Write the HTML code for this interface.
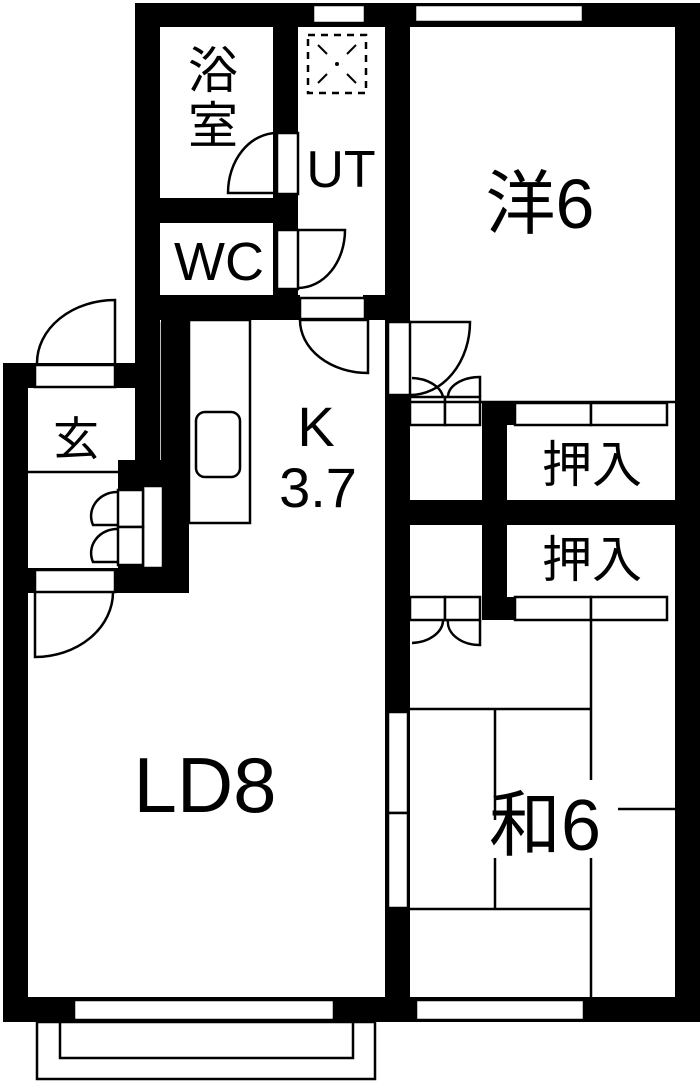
<!DOCTYPE html>
<html><head><meta charset="utf-8"><style>
html,body{margin:0;padding:0;background:#fff;}
svg{display:block;}
text{font-family:"Liberation Sans","Noto Sans CJK JP",sans-serif;fill:#000;}
</style></head><body>
<svg width="700" height="1083" viewBox="0 0 700 1083" xmlns="http://www.w3.org/2000/svg">
<g fill="#000" stroke="none">
<rect x="135" y="3" width="565" height="24"/>
<rect x="135" y="3" width="25" height="470"/>
<rect x="675" y="3" width="25" height="1019"/>
<rect x="273" y="27" width="25" height="293"/>
<rect x="160" y="198" width="138" height="25"/>
<rect x="135" y="295" width="165" height="25"/>
<rect x="363" y="295" width="47" height="25"/>
<rect x="385" y="3" width="25" height="1019"/>
<rect x="3" y="363" width="25" height="659"/>
<rect x="3" y="363" width="157" height="25"/>
<rect x="161" y="320" width="28" height="273"/>
<rect x="118" y="460" width="71" height="133"/>
<rect x="3" y="568" width="186" height="25"/>
<rect x="3" y="997" width="697" height="25"/>
<rect x="482" y="403" width="25" height="217"/>
<rect x="410" y="500" width="265" height="25"/>
<rect x="482" y="403" width="33" height="22"/>
<rect x="482" y="597" width="33" height="23"/>
</g>
<g fill="#fff" stroke="#000" stroke-width="2.5">
<rect x="313" y="5" width="52" height="18"/>
<rect x="415" y="5" width="168" height="17"/>
<rect x="74" y="1000" width="260" height="20"/>
<rect x="416" y="1000" width="168" height="20"/>
<rect x="277" y="133" width="21" height="61"/>
<rect x="277" y="230" width="21" height="59"/>
<rect x="300" y="298" width="65" height="21"/>
<rect x="388" y="322" width="22" height="73"/>
<rect x="388" y="712" width="20" height="101"/>
<rect x="388" y="813" width="20" height="95"/>
<rect x="35" y="365" width="80" height="22"/>
<rect x="35" y="570" width="80" height="22"/>
<rect x="143" y="486" width="20" height="82"/>
<rect x="118" y="490" width="25" height="37"/>
<rect x="118" y="527" width="25" height="38"/>
<rect x="410" y="397" width="35" height="28"/>
<rect x="445" y="397" width="35" height="28"/>
<rect x="515" y="403" width="76" height="22"/>
<rect x="591" y="403" width="76" height="22"/>
<rect x="410" y="597" width="35" height="23"/>
<rect x="445" y="597" width="35" height="23"/>
<rect x="515" y="597" width="76" height="23"/>
<rect x="591" y="597" width="76" height="23"/>
<rect x="189" y="320" width="61" height="203"/>
<rect x="196" y="412" width="44" height="65" rx="9"/>
<rect x="37" y="1022" width="338" height="57"/>
<rect x="60" y="1022" width="293" height="36"/>
</g>
<g fill="none" stroke="#000" stroke-width="2.5">
<line x1="162" y1="322" x2="162" y2="460"/>
<line x1="28" y1="472" x2="118" y2="472"/>
<line x1="410" y1="402" x2="675" y2="402"/>
<path d="M277,133 A49,60 0 0 0 228,193 L277,193"/>
<path d="M298,230 L345,230 A47,58 0 0 1 298,288"/>
<path d="M300,320 L368,320 L368,373 A68,53 0 0 1 300,320"/>
<path d="M115,363 L115,300 A78,63 0 0 0 37,363"/>
<path d="M35,592 L35,657 A78,65 0 0 0 113,592"/>
<path d="M118,492 A26,24 0 0 0 93,525 L118,525"/>
<path d="M118,529 A26,24 0 0 0 93,562 L118,562"/>
<path d="M410,322 L470,322 A60,73 0 0 1 410,395"/>
<path d="M412,378 A33,22 0 0 1 443,397"/>
<path d="M448,397 A32,20 0 0 1 480,377 L480,397"/>
<path d="M412,643 A33,23 0 0 0 443,620"/>
<path d="M448,620 A32,23 0 0 0 480,645 L480,620"/>
<line x1="591" y1="620" x2="591" y2="780"/>
<line x1="591" y1="858" x2="591" y2="997"/>
<line x1="410" y1="709" x2="591" y2="709"/>
<line x1="410" y1="909" x2="591" y2="909"/>
<line x1="495" y1="709" x2="495" y2="820"/>
<line x1="495" y1="858" x2="495" y2="909"/>
<line x1="618" y1="809" x2="675" y2="809"/>
</g>
<rect x="308" y="35" width="58" height="58" fill="none" stroke="#000" stroke-width="2.5" stroke-dasharray="7,6"/>
<path d="M318,45 L327,54 M356,45 L347,54 M318,83 L327,74 M356,83 L347,74" stroke="#000" stroke-width="2"/>
<circle cx="337" cy="64" r="2" fill="#000"/>
<text x="213" y="88" font-size="50" text-anchor="middle">浴</text>
<text x="213" y="143" font-size="50" text-anchor="middle">室</text>
<text x="341" y="187" font-size="52" text-anchor="middle">UT</text>
<text x="219" y="280" font-size="54" text-anchor="middle">WC</text>
<text x="540" y="228" font-size="70" text-anchor="middle">洋6</text>
<text x="316" y="446" font-size="56" text-anchor="middle">K</text>
<text x="318" y="507" font-size="56" text-anchor="middle">3.7</text>
<text x="76" y="455" font-size="46" text-anchor="middle">玄</text>
<text x="592" y="482" font-size="50" text-anchor="middle">押入</text>
<text x="592" y="577" font-size="50" text-anchor="middle">押入</text>
<text x="205" y="812" font-size="78" text-anchor="middle">LD8</text>
<text x="545" y="850" font-size="72" text-anchor="middle">和6</text>
</svg>
</body></html>
